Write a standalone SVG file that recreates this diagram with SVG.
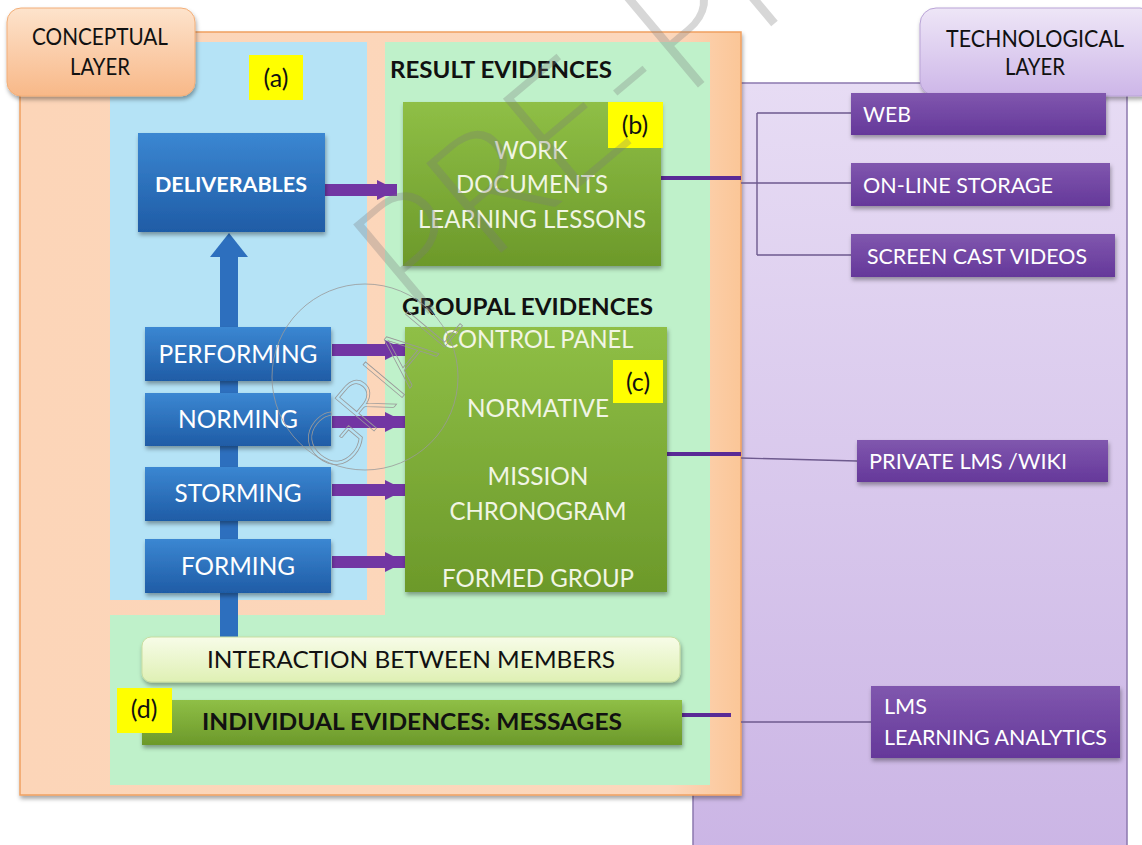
<svg xmlns="http://www.w3.org/2000/svg" width="1142" height="845" viewBox="0 0 1142 845">
<defs>
<linearGradient id="gOrangeLbl" x1="0" y1="0" x2="0" y2="1"><stop offset="0" stop-color="#FDE3CC"/><stop offset="1" stop-color="#F8B888"/></linearGradient>
<linearGradient id="gPurpleLbl" x1="0" y1="0" x2="0" y2="1"><stop offset="0" stop-color="#EEE6F7"/><stop offset="1" stop-color="#CDB6E8"/></linearGradient>
<linearGradient id="gTech" x1="0" y1="0" x2="0" y2="1"><stop offset="0" stop-color="#E7DCF4"/><stop offset="1" stop-color="#CBB5E5"/></linearGradient>
<linearGradient id="gPeach" x1="0" y1="0" x2="1" y2="0"><stop offset="0" stop-color="#FCD5B8"/><stop offset="0.9" stop-color="#FCD7BC"/><stop offset="1" stop-color="#FBC697"/></linearGradient>
<linearGradient id="gBlue" x1="0" y1="0" x2="0" y2="1"><stop offset="0" stop-color="#3B87D2"/><stop offset="1" stop-color="#1F5CA6"/></linearGradient>
<linearGradient id="gGreen" x1="0" y1="0" x2="0" y2="1"><stop offset="0" stop-color="#8FBF46"/><stop offset="1" stop-color="#6C992A"/></linearGradient>
<linearGradient id="gPurple" x1="0" y1="0" x2="0" y2="1"><stop offset="0" stop-color="#8057AE"/><stop offset="1" stop-color="#65389A"/></linearGradient>
<linearGradient id="gInter" x1="0" y1="0" x2="0" y2="1"><stop offset="0" stop-color="#F7FCE8"/><stop offset="1" stop-color="#DFF0B4"/></linearGradient>
<filter id="sh" x="-10%" y="-10%" width="130%" height="140%"><feDropShadow dx="1" dy="3" stdDeviation="2" flood-color="#000" flood-opacity="0.35"/></filter>
<marker id="mPurple" viewBox="0 0 10 10" refX="10" refY="5" markerWidth="1.7" markerHeight="1.9" markerUnits="strokeWidth" orient="auto"><path d="M0,0 L10,5 L0,10 z" fill="#7236A3"/></marker>
</defs>
<style>
text{font-family:"Lato","Open Sans","Liberation Sans",sans-serif;}
.blk{fill:#111;}
.wht{fill:#FFFFFF;}
.wg{fill:#F1F5E4;}
.b{font-weight:bold;}
.ylw{fill:#FFFF00;}
.parr{stroke:#7236A3;stroke-width:12;fill:none;}
.thick{stroke:#5A2A96;stroke-width:4;fill:none;}
.thin{stroke:#6E5A8E;stroke-width:1.4;fill:none;}
.wm{fill:#7a7a7a;fill-opacity:0.3;}
</style>

<!-- Technological layer region -->
<g id="tech-region">
<rect x="693" y="83" width="434" height="775" fill="url(#gTech)" stroke="#8C78AE" stroke-width="1.5"/>
</g>

<!-- Conceptual layer region -->
<g id="concept-region">
<rect x="20" y="32" width="721" height="763" fill="url(#gPeach)" stroke="#F0A060" stroke-width="1.5" filter="url(#sh)"/>
<rect x="110" y="42" width="257" height="558" fill="#B5E3F6"/>
<path d="M385,42 H710 V785 H110 V615 H385 Z" fill="#BFF1CA"/>
</g>

<g id="concept-label">
<rect x="7" y="8" width="188" height="88" rx="14" fill="url(#gOrangeLbl)" stroke="#F2AE78" stroke-width="1" filter="url(#sh)"/>
<text x="100" y="45" text-anchor="middle" font-size="24" class="blk" textLength="136" lengthAdjust="spacingAndGlyphs">CONCEPTUAL</text>
<text x="100" y="75" text-anchor="middle" font-size="24" class="blk" textLength="60" lengthAdjust="spacingAndGlyphs">LAYER</text>
</g>

<g id="tech-label">
<rect x="920" y="8" width="236" height="88" rx="16" fill="url(#gPurpleLbl)" stroke="#B9A3D6" stroke-width="1" filter="url(#sh)"/>
<text x="1035" y="47" text-anchor="middle" font-size="24" class="blk" textLength="178" lengthAdjust="spacingAndGlyphs">TECHNOLOGICAL</text>
<text x="1035" y="75" text-anchor="middle" font-size="24" class="blk" textLength="60" lengthAdjust="spacingAndGlyphs">LAYER</text>
</g>

<!-- Connectors -->
<g id="connectors">
<rect x="220" y="250" width="18" height="387" fill="#2D6FBE"/>
<path d="M210,257 L229,233 L248,257 Z" fill="#2D6FBE"/>
<line x1="325" y1="190" x2="397" y2="190" class="parr" marker-end="url(#mPurple)"/>
<line x1="332" y1="350" x2="405" y2="350" class="parr" marker-end="url(#mPurple)"/>
<line x1="332" y1="422" x2="405" y2="422" class="parr" marker-end="url(#mPurple)"/>
<line x1="332" y1="490" x2="405" y2="490" class="parr" marker-end="url(#mPurple)"/>
<line x1="332" y1="562" x2="405" y2="562" class="parr" marker-end="url(#mPurple)"/>
<line x1="661" y1="178" x2="741" y2="178" class="thick"/>
<path d="M741,183 H757 M757,113 V255 M757,113 H851 M757,183 H851 M757,255 H851" class="thin"/>
<line x1="667" y1="454" x2="741" y2="454" class="thick"/>
<line x1="741" y1="458" x2="857" y2="461" class="thin"/>
<line x1="672" y1="715" x2="731" y2="715" class="thick"/>
<line x1="741" y1="722" x2="871" y2="722" class="thin"/>
</g>

<g id="label-a"><rect x="249" y="55" width="54" height="45" class="ylw"/><text x="276" y="87" text-anchor="middle" font-size="25" class="blk">(a)</text></g>

<g id="deliverables">
<rect x="138" y="133" width="187" height="99" fill="url(#gBlue)" filter="url(#sh)"/>
<text x="231" y="192" text-anchor="middle" font-size="21" class="wht b" textLength="152" lengthAdjust="spacingAndGlyphs">DELIVERABLES</text>
</g>

<g id="performing"><rect x="145" y="327" width="186" height="54" fill="url(#gBlue)" filter="url(#sh)"/><text x="238" y="363" text-anchor="middle" font-size="25" class="wht" textLength="159" lengthAdjust="spacingAndGlyphs">PERFORMING</text></g>
<g id="norming"><rect x="145" y="393" width="186" height="53" fill="url(#gBlue)" filter="url(#sh)"/><text x="238" y="428" text-anchor="middle" font-size="25" class="wht" textLength="120" lengthAdjust="spacingAndGlyphs">NORMING</text></g>
<g id="storming"><rect x="145" y="467" width="186" height="54" fill="url(#gBlue)" filter="url(#sh)"/><text x="238" y="502" text-anchor="middle" font-size="25" class="wht" textLength="127" lengthAdjust="spacingAndGlyphs">STORMING</text></g>
<g id="forming"><rect x="145" y="539" width="186" height="54" fill="url(#gBlue)" filter="url(#sh)"/><text x="238" y="575" text-anchor="middle" font-size="25" class="wht" textLength="114" lengthAdjust="spacingAndGlyphs">FORMING</text></g>

<g id="result-title"><text x="390" y="78" font-size="23" class="blk b" textLength="222" lengthAdjust="spacingAndGlyphs">RESULT EVIDENCES</text></g>

<g id="result-box">
<rect x="403" y="102" width="258" height="164" fill="url(#gGreen)" filter="url(#sh)"/>
<text x="531" y="159" text-anchor="middle" font-size="25" class="wg" textLength="73" lengthAdjust="spacingAndGlyphs">WORK</text>
<text x="532" y="193" text-anchor="middle" font-size="25" class="wg" textLength="152" lengthAdjust="spacingAndGlyphs">DOCUMENTS</text>
<text x="532" y="228" text-anchor="middle" font-size="25" class="wg" textLength="228" lengthAdjust="spacingAndGlyphs">LEARNING LESSONS</text>
</g>
<g id="label-b"><rect x="608" y="102" width="55" height="46" class="ylw"/><text x="635" y="134" text-anchor="middle" font-size="25" class="blk">(b)</text></g>

<g id="groupal-title"><text x="402" y="315" font-size="23" class="blk b" textLength="251" lengthAdjust="spacingAndGlyphs">GROUPAL EVIDENCES</text></g>

<g id="groupal-box">
<rect x="405" y="327" width="262" height="265" fill="url(#gGreen)" filter="url(#sh)"/>
<text x="538" y="348" text-anchor="middle" font-size="25" class="wg" textLength="191" lengthAdjust="spacingAndGlyphs">CONTROL PANEL</text>
<text x="538" y="417" text-anchor="middle" font-size="25" class="wg" textLength="142" lengthAdjust="spacingAndGlyphs">NORMATIVE</text>
<text x="538" y="485" text-anchor="middle" font-size="25" class="wg" textLength="101" lengthAdjust="spacingAndGlyphs">MISSION</text>
<text x="538" y="520" text-anchor="middle" font-size="25" class="wg" textLength="177" lengthAdjust="spacingAndGlyphs">CHRONOGRAM</text>
<text x="538" y="587" text-anchor="middle" font-size="25" class="wg" textLength="192" lengthAdjust="spacingAndGlyphs">FORMED GROUP</text>
</g>
<g id="label-c"><rect x="613" y="360" width="50" height="43" class="ylw"/><text x="638" y="391" text-anchor="middle" font-size="25" class="blk">(c)</text></g>

<g id="interaction">
<rect x="142" y="637" width="538" height="45" rx="9" fill="url(#gInter)" stroke="#C9DDA0" stroke-width="1" filter="url(#sh)"/>
<text x="411" y="668" text-anchor="middle" font-size="23" class="blk" textLength="408" lengthAdjust="spacingAndGlyphs">INTERACTION BETWEEN MEMBERS</text>
</g>

<g id="individual">
<rect x="142" y="700" width="540" height="45" fill="url(#gGreen)" filter="url(#sh)"/>
<text x="412" y="730" text-anchor="middle" font-size="23" class="blk b" textLength="420" lengthAdjust="spacingAndGlyphs">INDIVIDUAL EVIDENCES: MESSAGES</text>
</g>
<g id="label-d"><rect x="117" y="688" width="55" height="45" class="ylw"/><text x="144" y="718" text-anchor="middle" font-size="25" class="blk">(d)</text></g>

<g id="web"><rect x="851" y="93" width="255" height="42" fill="url(#gPurple)" filter="url(#sh)"/><text x="863" y="122" font-size="22" class="wht" textLength="48" lengthAdjust="spacingAndGlyphs">WEB</text></g>
<g id="storage"><rect x="851" y="163" width="259" height="43" fill="url(#gPurple)" filter="url(#sh)"/><text x="863" y="193" font-size="22" class="wht" textLength="190" lengthAdjust="spacingAndGlyphs">ON-LINE STORAGE</text></g>
<g id="screencast"><rect x="851" y="234" width="264" height="43" fill="url(#gPurple)" filter="url(#sh)"/><text x="867" y="264" font-size="22" class="wht" textLength="220" lengthAdjust="spacingAndGlyphs">SCREEN CAST VIDEOS</text></g>
<g id="private-lms"><rect x="857" y="440" width="251" height="42" fill="url(#gPurple)" filter="url(#sh)"/><text x="869" y="469" font-size="22" class="wht" textLength="198" lengthAdjust="spacingAndGlyphs">PRIVATE LMS /WIKI</text></g>
<g id="lms-analytics"><rect x="871" y="686" width="249" height="72" fill="url(#gPurple)" filter="url(#sh)"/>
<text x="884" y="714" font-size="22" class="wht" textLength="43" lengthAdjust="spacingAndGlyphs">LMS</text>
<text x="884" y="745" font-size="22" class="wht" textLength="223" lengthAdjust="spacingAndGlyphs">LEARNING ANALYTICS</text></g>

<!-- Watermarks -->
<g id="watermark">
<text x="415" y="325" font-size="165" class="wm" font-weight="300" transform="rotate(-40 415 325)">PRE-PRINT</text>
<circle cx="365" cy="377" r="93" fill="none" stroke="#999" stroke-width="0.8"/>
<text x="380" y="410" text-anchor="middle" font-size="72" fill="none" stroke="#999" stroke-width="0.8" font-weight="300" transform="rotate(-50 380 385)">GRIAL</text>
</g>
</svg>
